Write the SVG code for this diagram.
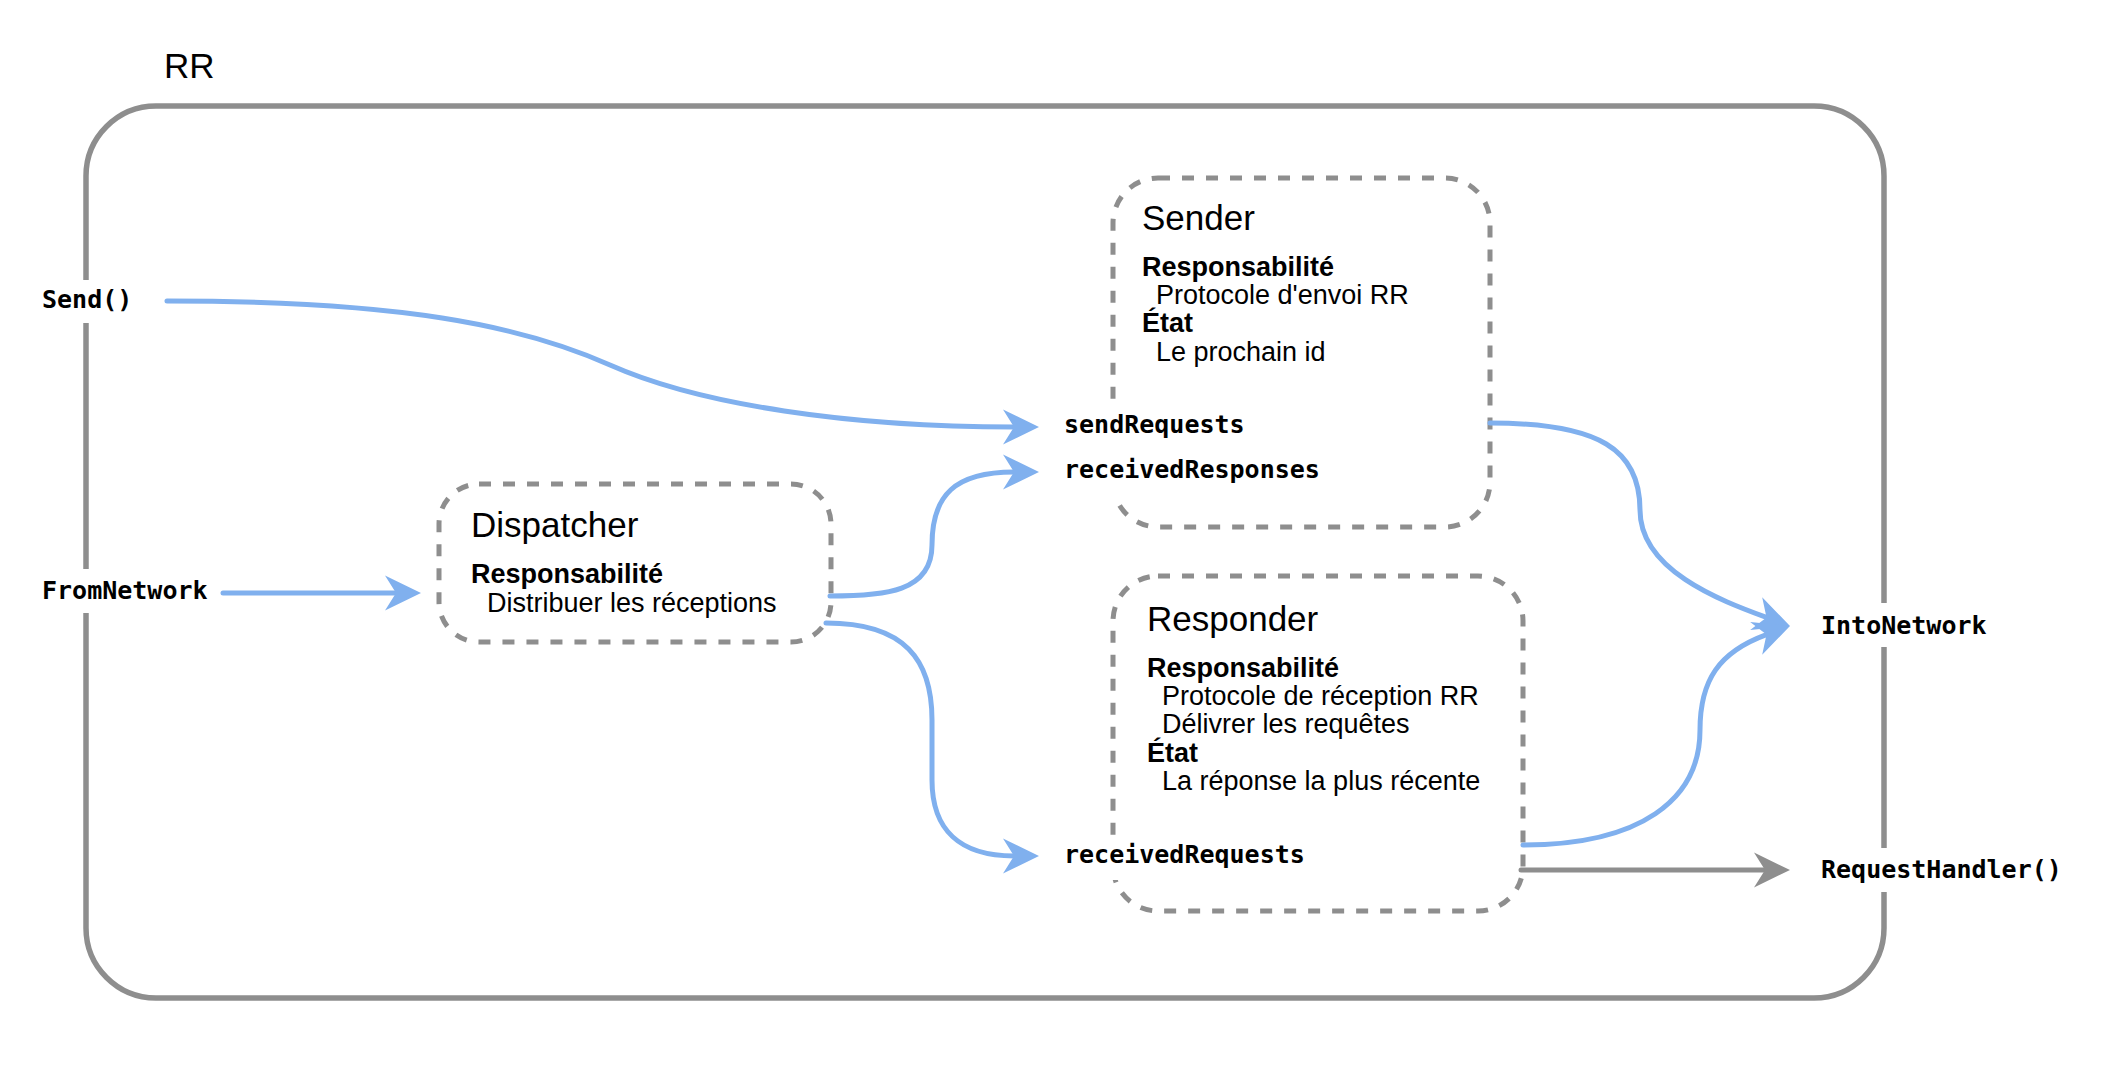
<svg xmlns="http://www.w3.org/2000/svg" width="2110" height="1080" viewBox="0 0 2110 1080">
<style>
.box{fill:none;stroke:#8e8e8e;stroke-width:5.5}
.dash{fill:none;stroke:#8e8e8e;stroke-width:5;stroke-dasharray:12 12}
.title{font-family:"Liberation Sans",Arial,sans-serif;font-size:35px;fill:#000}
.head{font-family:"Liberation Sans",Arial,sans-serif;font-size:27px;font-weight:bold;fill:#000}
.body{font-family:"Liberation Sans",Arial,sans-serif;font-size:27px;fill:#000}
.port{font-family:"DejaVu Sans Mono",monospace;font-size:25px;font-weight:bold;fill:#000}
.bg{fill:#fff}
.blue{fill:none;stroke:#80b0ee;stroke-width:5;stroke-linecap:round}
.grey{fill:none;stroke:#8e8e8e;stroke-width:5;stroke-linecap:round}
</style>
<defs>
<marker id="ab" markerUnits="userSpaceOnUse" viewBox="0 0 36 36" markerWidth="36" markerHeight="36" refX="11" refY="18" orient="auto"><path d="M0,0.5 L36,18 L0,35.5 L11,18 Z" fill="#80b0ee"/></marker>
<marker id="ag" markerUnits="userSpaceOnUse" viewBox="0 0 36 36" markerWidth="36" markerHeight="36" refX="11" refY="18" orient="auto"><path d="M0,0.5 L36,18 L0,35.5 L11,18 Z" fill="#8e8e8e"/></marker>
</defs>
<rect width="2110" height="1080" fill="#fff"/>

<g id="rr">
<text class="title" x="164" y="78">RR</text>
<rect class="box" x="86" y="106" width="1798" height="892" rx="70" ry="70"/>
</g>

<g id="dispatcher">
<rect class="dash" x="439" y="484" width="392" height="158" rx="40" ry="40"/>
<text class="title" x="471" y="537">Dispatcher</text>
<text class="head" x="471" y="583">Responsabilité</text>
<text class="body" x="487" y="612">Distribuer les réceptions</text>
</g>

<g id="sender">
<rect class="dash" x="1113" y="178" width="377" height="349" rx="45" ry="45"/>
<text class="title" x="1142" y="230">Sender</text>
<text class="head" x="1142" y="276">Responsabilité</text>
<text class="body" x="1156" y="304">Protocole d'envoi RR</text>
<text class="head" x="1142" y="332">État</text>
<text class="body" x="1156" y="361">Le prochain id</text>
</g>

<g id="responder">
<rect class="dash" x="1113" y="576" width="410" height="335" rx="45" ry="45"/>
<text class="title" x="1147" y="631">Responder</text>
<text class="head" x="1147" y="677">Responsabilité</text>
<text class="body" x="1162" y="705">Protocole de réception RR</text>
<text class="body" x="1162" y="733">Délivrer les requêtes</text>
<text class="head" x="1147" y="762">État</text>
<text class="body" x="1162" y="790">La réponse la plus récente</text>
</g>

<g id="connectors">
<path class="blue" marker-end="url(#ab)" d="M167,301 C400,301 520,325 610,365 C700,405 850,427 1014,427"/>
<path class="blue" marker-end="url(#ab)" d="M223,593 L396,593"/>
<path class="blue" marker-end="url(#ab)" d="M830,596 C885,596 932,592 932,545 C932,495 955,472 1014,472"/>
<path class="blue" marker-end="url(#ab)" d="M826,623 C905,623 932,660 932,720 L932,780 C932,830 960,856 1014,856"/>
<path class="blue" marker-end="url(#ab)" d="M1490,423 C1600,423 1640,450 1640,510 C1640,570 1719,600 1766.5,617.4"/>
<path class="blue" marker-end="url(#ab)" d="M1523,845 C1640,845 1700,800 1700,730 C1700,680 1719,652 1766.5,634.6"/>
<path class="grey" marker-end="url(#ag)" d="M1521,870 L1765,870"/>
</g>

<g id="port-send">
<rect class="bg" x="36" y="280" width="100" height="43"/>
<text class="port" x="42" y="308">Send()</text>
</g>
<g id="port-fromnetwork">
<rect class="bg" x="36" y="569" width="176" height="44"/>
<text class="port" x="42" y="599">FromNetwork</text>
</g>
<g id="port-sendrequests">
<rect class="bg" x="1058" y="404" width="190" height="45"/>
<text class="port" x="1064" y="433">sendRequests</text>
</g>
<g id="port-receivedresponses">
<rect class="bg" x="1058" y="450" width="265" height="46"/>
<text class="port" x="1064" y="478">receivedResponses</text>
</g>
<g id="port-receivedrequests">
<rect class="bg" x="1058" y="835" width="250" height="45"/>
<text class="port" x="1064" y="863">receivedRequests</text>
</g>
<g id="port-intonetwork">
<rect class="bg" x="1815" y="603" width="178" height="44"/>
<text class="port" x="1821" y="634">IntoNetwork</text>
</g>
<g id="port-requesthandler">
<rect class="bg" x="1815" y="848" width="254" height="44"/>
<text class="port" x="1821" y="878">RequestHandler()</text>
</g>
</svg>
